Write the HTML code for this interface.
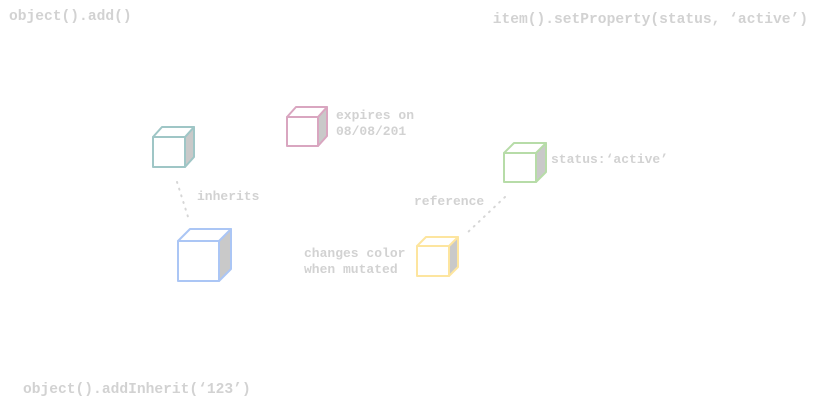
<!DOCTYPE html>
<html><head><style>
html,body{margin:0;padding:0;background:#fff;width:836px;height:416px;overflow:hidden}
svg text{font-family:"Liberation Mono",monospace;font-weight:bold;fill:#d2d2d2}
</style></head><body>
<svg width="836" height="416" viewBox="0 0 836 416" xmlns="http://www.w3.org/2000/svg">
<g font-size="14.6">
<text x="9" y="20">object().add()</text>
<text x="808" y="23" text-anchor="end">item().setProperty(status, ‘active’)</text>
<text x="23" y="393">object().addInherit(‘123’)</text>
</g>
<g font-size="13">
<text x="336" y="119">expires on</text>
<text x="336" y="135">08/08/201</text>
<text x="197" y="200">inherits</text>
<text x="551" y="163">status:‘active’</text>
<text x="414" y="205">reference</text>
<text x="304" y="257">changes color</text>
<text x="304" y="273">when mutated</text>
</g>
<g stroke="#d6d6d6" stroke-width="2" stroke-dasharray="1,6" stroke-linecap="round">
<line x1="177" y1="182" x2="189" y2="220"/>
<line x1="505" y1="197" x2="467" y2="233"/>
</g>
<g stroke-width="2" stroke-linejoin="round">
<g stroke="#9fc6c6"><polygon points="185,137 194,127 194,157 185,167" fill="#c9c9c9"/><polygon points="153,137 162,127 194,127 185,137" fill="#fff"/><rect x="153" y="137" width="32" height="30" fill="#fff"/></g>
<g stroke="#d9a6c0"><polygon points="318,117 327,107 327,136 318,146" fill="#c9c9c9"/><polygon points="287,117 296,107 327,107 318,117" fill="#fff"/><rect x="287" y="117" width="31" height="29" fill="#fff"/></g>
<g stroke="#abc6f5"><polygon points="219,241 231,229 231,269 219,281" fill="#c9c9c9"/><polygon points="178,241 190,229 231,229 219,241" fill="#fff"/><rect x="178" y="241" width="41" height="40" fill="#fff"/></g>
<g stroke="#b7dca8"><polygon points="536,153 546,143 546,172 536,182" fill="#c9c9c9"/><polygon points="504,153 514,143 546,143 536,153" fill="#fff"/><rect x="504" y="153" width="32" height="29" fill="#fff"/></g>
<g stroke="#fde59f"><polygon points="449,246 458,237 458,267 449,276" fill="#c9c9c9"/><polygon points="417,246 426,237 458,237 449,246" fill="#fff"/><rect x="417" y="246" width="32" height="30" fill="#fff"/></g>
</g>
</svg>
</body></html>
